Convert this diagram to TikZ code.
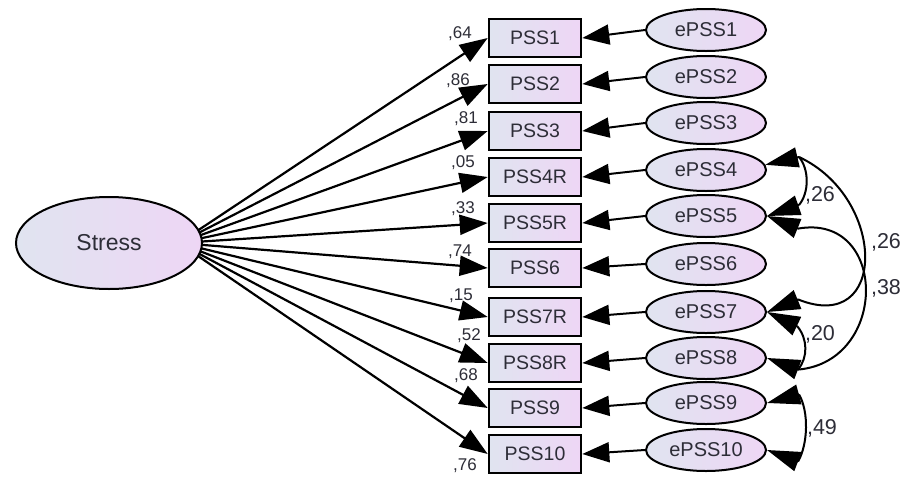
\documentclass[tikz,border=0pt]{standalone}
\usepackage{fontspec}
\setmainfont{Liberation Sans}
\usetikzlibrary{arrows.meta,backgrounds,shapes.geometric}
\definecolor{shadeL}{RGB}{224,228,240}
\definecolor{shadeR}{RGB}{238,214,245}
\definecolor{ink}{RGB}{45,45,55}
\begin{document}
\begin{tikzpicture}[x=1pt,y=1pt,
  obs/.style={draw=black, line width=2.6pt, left color=shadeL, right color=shadeR,
    minimum width=92pt, minimum height=38pt, inner sep=0pt, text=ink,
    font=\fontsize{19.5}{22}\selectfont},
  lat/.style={ellipse, draw=black, line width=2pt, left color=shadeL, right color=shadeR,
    inner sep=0pt, text=ink},
  err/.style={lat, minimum width=120pt, minimum height=42pt, font=\fontsize{20}{22}\selectfont},
  load/.style={line width=2.2pt, -{Triangle[length=28pt,width=20pt]}},
  res/.style={line width=2pt, -{Triangle[length=27pt,width=20pt]}},
  covtip/.style={line width=2pt, -{Triangle[length=33pt,width=20pt]}},
  covline/.style={line width=2pt},
  lw/.style={text=ink, inner sep=0pt, font=\fontsize{17}{20}\selectfont},
  cw/.style={text=ink, inner sep=0pt, font=\fontsize{21.5}{24}\selectfont}]

\useasboundingbox (0,0) rectangle (903,-477);

% latent factor
\node[lat, minimum width=186pt, minimum height=92pt, font=\fontsize{23}{26}\selectfont]
  (stress) at (109,-243) {Stress};

% observed items
\node[obs] (b1)  at (535,-38)  {PSS1};
\node[obs] (b2)  at (535,-84)  {PSS2};
\node[obs] (b3)  at (535,-131) {PSS3};
\node[obs] (b4)  at (535,-177) {PSS4R};
\node[obs] (b5)  at (535,-223) {PSS5R};
\node[obs] (b6)  at (535,-268) {PSS6};
\node[obs] (b7)  at (535,-317) {PSS7R};
\node[obs] (b8)  at (535,-363) {PSS8R};
\node[obs] (b9)  at (535,-408) {PSS9};
\node[obs] (b10) at (535,-454) {PSS10};

% error terms
\node[err] (e1)  at (706,-30)  {ePSS1};
\node[err] (e2)  at (706,-77)  {ePSS2};
\node[err] (e3)  at (706,-123) {ePSS3};
\node[err] (e4)  at (706,-170) {ePSS4};
\node[err] (e5)  at (706,-216) {ePSS5};
\node[err] (e6)  at (706,-264) {ePSS6};
\node[err] (e7)  at (706,-312) {ePSS7};
\node[err] (e8)  at (706,-358) {ePSS8};
\node[err] (e9)  at (706,-403) {ePSS9};
\node[err] (e10) at (706,-450) {ePSS10};

% loadings, drawn underneath the factor ellipse
\begin{scope}[on background layer]
  \fill[white] (0,0) rectangle (903,-477);
  \foreach \b in {b1,b2,b3,b4,b5,b6,b7,b8,b9,b10}
    \draw[load] ([xshift=70pt]stress.center) -- (\b.west);
\end{scope}

% residual paths
\foreach \i in {1,...,10}
  \draw[res] (e\i.west) -- (b\i.east);

% error covariances: arrowhead bases, heads, then the arcs between the bases
\coordinate (h4)  at (799,-157);
\coordinate (h5u) at (799,-205);
\coordinate (h5l) at (798,-228.6);
\coordinate (h7u) at (798,-299.4);
\coordinate (h7l) at (797.3,-326.3);
\coordinate (h8)  at (798,-369.6);
\coordinate (h9)  at (799,-394.4);
\coordinate (h10) at (798,-461.6);

\draw[covtip] (h4)  -- (e4.5);
\draw[covtip] (h5u) -- (e5.east);
\draw[covtip] (h5l) -- (e5.east);
\draw[covtip] (h7u) -- (e7.east);
\draw[covtip] (h7l) -- (e7.east);
\draw[covtip] (h8)  -- (e8.east);
\draw[covtip] (h9)  -- (e9.east);
\draw[covtip] (h10) -- (e10.east);

\draw[covline] (h4)  to[out=-50,in=50,distance=16pt] (h5u);
\draw[covline] (h4)  to[out=-25,in=-22,distance=97pt] (h7u);
\draw[covline] (h5l) to[out=10,in=5,distance=91.5pt] (h8);
\draw[covline] (h7l) to[out=-50,in=50,distance=16pt] (h8);
\draw[covline] (h9)  to[out=-60,in=60,distance=20pt] (h10);

% standardized loadings
\node[lw] (l1)  at (460,-34)  {,64};
\node[lw] (l2)  at (458,-81)  {,86};
\node[lw] (l3)  at (466,-119) {,81};
\node[lw] (l4)  at (463,-163) {,05};
\node[lw] (l5)  at (463,-209) {,33};
\node[lw] (l6)  at (460,-252) {,74};
\node[lw] (l7)  at (461,-296) {,15};
\node[lw] (l8)  at (469,-336) {,52};
\node[lw] (l9)  at (466,-376) {,68};
\node[lw] (l10) at (465,-466) {,76};

% covariance values
\node[cw] (c45) at (820,-195) {,26};
\node[cw] (c47) at (886,-242) {,26};
\node[cw] (c58) at (886,-288) {,38};
\node[cw] (c78) at (820,-334) {,20};
\node[cw] (c910) at (822,-428) {,49};
\end{tikzpicture}
\end{document}
